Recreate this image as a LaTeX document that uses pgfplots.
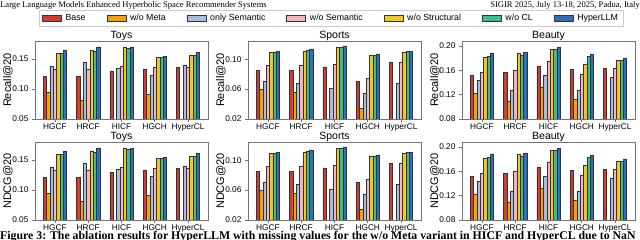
\documentclass[border=0pt]{standalone}
\usepackage{pgfplots}
\pgfplotsset{compat=1.18}
\usepackage{pgfplotstable}
\usepackage{fontspec}
\setmainfont{Liberation Sans}
\newfontfamily\seriffont{Liberation Serif}

\definecolor{cBase}{HTML}{D43D2D}
\definecolor{cMeta}{HTML}{F5A300}
\definecolor{cOnly}{HTML}{A8BEDF}
\definecolor{cWoSem}{HTML}{F5B5BA}
\definecolor{cWoStr}{HTML}{F1C722}
\definecolor{cWoCL}{HTML}{3CBF8F}
\definecolor{cHyper}{HTML}{2F6FC3}

\pgfplotstableread{
x base meta onlysem wosem wostruct wocl hyper
0 0.1206 0.0950 0.1378 0.1333 0.1589 0.1589 0.1644
1 0.1206 0.0811 0.1450 0.1333 0.1644 0.1633 0.1700
2 0.1294 nan    0.1350 0.1372 0.1689 0.1678 0.1694
3 0.1333 0.0911 0.1233 0.1361 0.1528 0.1533 0.1544
4 0.1361 nan    0.1389 0.1367 0.1567 0.1561 0.1606
}\toys
\pgfplotstableread{
x base meta onlysem wosem wostruct wocl hyper
0 0.0848 0.0602 0.0700 0.0915 0.1094 0.1100 0.1103
1 0.0848 0.0558 0.0678 0.0915 0.1103 0.1116 0.1139
2 0.0897 nan    0.0616 0.0933 0.1156 0.1156 0.1179
3 0.0700 0.0347 0.0544 0.0750 0.1058 0.1058 0.1072
4 0.0960 nan    0.0683 0.0960 0.1094 0.1103 0.1107
}\sports
\pgfplotstableread{
x base meta onlysem wosem wostruct wocl hyper
0 0.1523 0.1227 0.1441 0.1573 0.1808 0.1830 0.1885
1 0.1567 0.1096 0.1277 0.1605 0.1874 0.1852 0.1901
2 0.1666 0.1326 0.1512 0.1742 0.1945 0.1940 0.1973
3 0.1611 0.1129 0.1277 0.1529 0.1693 0.1830 0.1858
4 0.1633 nan    0.1490 0.1638 0.1770 0.1770 0.1803
}\beauty

\newcommand{\bars}[1]{%
  \addplot[fill=cBase,  bar shift=-0.3] table[x=x,y=base]{#1};
  \addplot[fill=cMeta,  bar shift=-0.2] table[x=x,y=meta]{#1};
  \addplot[fill=cOnly,  bar shift=-0.1] table[x=x,y=onlysem]{#1};
  \addplot[fill=cWoSem, bar shift=0]    table[x=x,y=wosem]{#1};
  \addplot[fill=cWoStr, bar shift=0.1]  table[x=x,y=wostruct]{#1};
  \addplot[fill=cWoCL,  bar shift=0.2]  table[x=x,y=wocl]{#1};
  \addplot[fill=cHyper, bar shift=0.3]  table[x=x,y=hyper]{#1};
}

\pgfplotsset{
  abl/.style={
    scale only axis, width=173pt, height=78pt,
    anchor=south west,
    xmin=-0.6, xmax=4.6,
    xtick={0,1,2,3,4}, xticklabels={HGCF,HRCF,HICF,HGCH,HyperCL},
    axis line style={draw=black!55, line width=0.8pt},
    tick style={draw=black!55, line width=0.6pt},
    major tick length=3pt, tick align=outside,
    xtick pos=lower, ytick pos=left,
    ticklabel style={font=\fontsize{8.3}{9}\selectfont},
    xticklabel style={yshift=2pt},
    /pgf/number format/assume math mode=true,
    /pgf/number format/fixed, /pgf/number format/fixed zerofill,
    /pgf/number format/precision=2,
    every axis title/.style={at={(0.5,1)}, anchor=base, yshift=2.5pt,
      font=\fontsize{10.5}{12}\selectfont},
    every axis y label/.style={at={(axis description cs:0,0.5)}, xshift=-27pt,
      rotate=90, anchor=center, font=\fontsize{11}{12}\selectfont},
    ybar, bar width=0.1,
    every axis plot/.append style={draw=black!80, line width=0.45pt},
    legend image code/.code={\draw[##1,/tikz/.cd] (0pt,-3pt) rectangle (19pt,3pt);},
  },
  toysax/.style={abl, ymin=0.05, ymax=0.18, ytick={0.05,0.10,0.15}, title={Toys}},
  sportsax/.style={abl, ymin=0.02, ymax=0.1244, ytick={0.02,0.06,0.10}, title={Sports}},
  beautyax/.style={abl, ymin=0.08, ymax=0.2082, ytick={0.08,0.12,0.16,0.20}, title={Beauty}},
}

\begin{document}
\begin{tikzpicture}
\useasboundingbox (0pt,0pt) rectangle (640pt,240pt);
\clip (0pt,0pt) rectangle (640pt,240pt);

\node[anchor=base west, inner sep=0, font=\seriffont\fontsize{8.6}{10}\selectfont] at (0pt,232.5pt)
  {Large Language Models Enhanced Hyperbolic Space Recommender Systems};
\node[anchor=base east, inner sep=0, font=\seriffont\fontsize{8.6}{10}\selectfont] at (640pt,232.5pt)
  {SIGIR 2025, July 13-18, 2025, Padua, Italy};

% top row
\begin{axis}[toysax, at={(35pt,121pt)}, ylabel={Recall@20},
  legend columns=7,
  legend style={at={(1.711,1.288)}, anchor=center, draw=black!20, line width=0.6pt,
    fill=white, font=\fontsize{8.8}{10}\selectfont, inner xsep=3pt, inner ysep=2pt,
    /tikz/every even column/.append style={column sep=19pt},
    /tikz/every odd column/.append style={column sep=2pt}},
  legend cell align=left]
\bars{\toys}
\legend{Base,w/o Meta,only Semantic,w/o Semantic,w/o Structural,w/o CL,HyperLLM}
\end{axis}
\begin{axis}[sportsax, at={(248pt,121pt)}, ylabel={Recall@20}]
\bars{\sports}
\end{axis}
\begin{axis}[beautyax, at={(462pt,121pt)}, ylabel={Recall@20}]
\bars{\beauty}
\end{axis}

% bottom row
\begin{axis}[toysax, at={(35pt,20pt)}, ylabel={NDCG@20}]
\bars{\toys}
\end{axis}
\begin{axis}[sportsax, at={(248pt,20pt)}, ylabel={NDCG@20}]
\bars{\sports}
\end{axis}
\begin{axis}[beautyax, at={(462pt,20pt)}, ylabel={NDCG@20}]
\bars{\beauty}
\end{axis}

\node[anchor=base west, inner sep=0, font=\seriffont\bfseries\fontsize{11.8}{14}\selectfont] at (0pt,0.3pt)
  {Figure 3: The ablation results for HyperLLM with missing values for the w/o Meta variant in HICF and HyperCL due to NaN};
\end{tikzpicture}
\end{document}
